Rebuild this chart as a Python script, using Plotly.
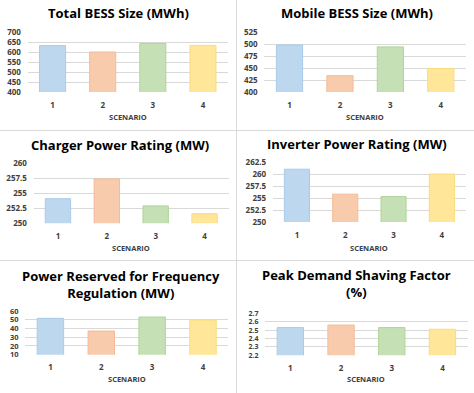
import plotly.graph_objects as go

scenarios = ["1", "2", "3", "4"]
total_bess = [632, 600, 643, 633]
mobile_bess = [498, 434, 494, 449]
charger = [254.1, 257.4, 252.9, 251.6]
inverter = [261.0, 255.8, 255.3, 260.0]
freq_reg = [51.6, 37.1, 53.1, 49.7]
peak_shaving = [2.53, 2.56, 2.53, 2.51]

titles = [
    "Total BESS Size (MWh)",
    "Mobile BESS Size (MWh)",
    "Charger Power Rating (MW)",
    "Inverter Power Rating (MW)",
    "Power Reserved for Frequency<br>Regulation (MW)",
    "Peak Demand Shaving Factor<br>(%)",
]
series = [total_bess, mobile_bess, charger, inverter, freq_reg, peak_shaving]
y_ranges = [[400, 700], [400, 525], [250, 260], [250, 262.5], [10, 60], [2.2, 2.7]]
y_dticks = [50, 25, 2.5, 2.5, 10, 0.1]
y_formats = ["d", "d", "", "", "d", ".1f"]
y_fontsizes = [8, 8, 8, 8, 7.5, 7]

fills = ["#BDD7EE", "#F8CBAD", "#C5E0B4", "#FFE699"]
lines = ["#A9CBEA", "#F4BC98", "#AFD49B", "#FBDB7A"]

W, H = 474, 393
# pixel boxes: x0, x1, ytop, ybottom
boxes = [
    (27.5, 228, 32, 92),
    (264.3, 466, 32, 92),
    (33.5, 229, 163.3, 223.3),
    (272.8, 466, 162, 222),
    (25, 228.4, 311, 354.7),
    (265, 467.8, 313.3, 355.3),
]
title_pos = [(118, 13), (357, 13), (120, 145), (357, 144), (121, 284), (356, 283)]
scen_y = [117, 117, 248, 248, 379.3, 379]

FONT = "Open Sans"
fig = go.Figure()
layout = {}
annotations = []
for i in range(6):
    n = i + 1
    xa = "x" if n == 1 else f"x{n}"
    ya = "y" if n == 1 else f"y{n}"
    fig.add_trace(go.Bar(
        x=scenarios, y=series[i], xaxis=xa, yaxis=ya,
        marker=dict(color=fills, line=dict(color=lines, width=1)),
        width=0.52, showlegend=False, hoverinfo="x+y",
    ))
    x0, x1, yt, yb = boxes[i]
    layout[f"xaxis{'' if n == 1 else n}"] = dict(
        domain=[x0 / W, x1 / W], anchor=ya, type="category",
        range=[-0.5, 3.5], showgrid=False, zeroline=False, showline=False,
        ticks="outside", ticklen=5, tickcolor="rgba(0,0,0,0)",
        tickfont=dict(family=FONT, size=8, color="#404040", weight=700),
        fixedrange=True, automargin=False,
    )
    layout[f"yaxis{'' if n == 1 else n}"] = dict(
        domain=[1 - yb / H, 1 - yt / H], anchor=xa,
        range=y_ranges[i], dtick=y_dticks[i], tick0=y_ranges[i][0],
        tickformat=y_formats[i],
        showgrid=True, gridcolor="#D9D9D9", gridwidth=1,
        zeroline=False, showline=False,
        ticks="outside", ticklen=4, tickcolor="rgba(0,0,0,0)",
        tickfont=dict(family=FONT, size=y_fontsizes[i], color="#404040", weight=700),
        fixedrange=True, automargin=False,
    )
    tx, ty = title_pos[i]
    annotations.append(dict(
        text=titles[i], x=tx / W, y=1 - ty / H, xref="paper", yref="paper",
        showarrow=False, xanchor="center", yanchor="middle",
        font=dict(family=FONT, size=13, color="#000000", weight=700),
    ))
    annotations.append(dict(
        text="SCENARIO", x=((x0 + x1) / 2) / W, y=1 - scen_y[i] / H,
        xref="paper", yref="paper", showarrow=False,
        xanchor="center", yanchor="middle",
        font=dict(family=FONT, size=7.5, color="#404040", weight=700),
    ))

shapes = [
    dict(type="line", xref="paper", yref="paper", x0=236.5 / W, x1=236.5 / W, y0=0, y1=1,
         line=dict(color="#D9D9D9", width=1)),
    dict(type="line", xref="paper", yref="paper", x0=0, x1=1, y0=1 - 130.5 / H, y1=1 - 130.5 / H,
         line=dict(color="#D9D9D9", width=1)),
    dict(type="line", xref="paper", yref="paper", x0=0, x1=1, y0=1 - 260.5 / H, y1=1 - 260.5 / H,
         line=dict(color="#D9D9D9", width=1)),
]

fig.update_layout(
    width=W, height=H, margin=dict(l=0, r=0, t=0, b=0, autoexpand=False),
    paper_bgcolor="white", plot_bgcolor="white",
    annotations=annotations, shapes=shapes, bargap=0.48,
    **layout,
)
fig.write_html(
    "out.html",
    config={"displayModeBar": False},
    post_script="document.body.style.margin='0';document.body.style.overflow='hidden';",
)
